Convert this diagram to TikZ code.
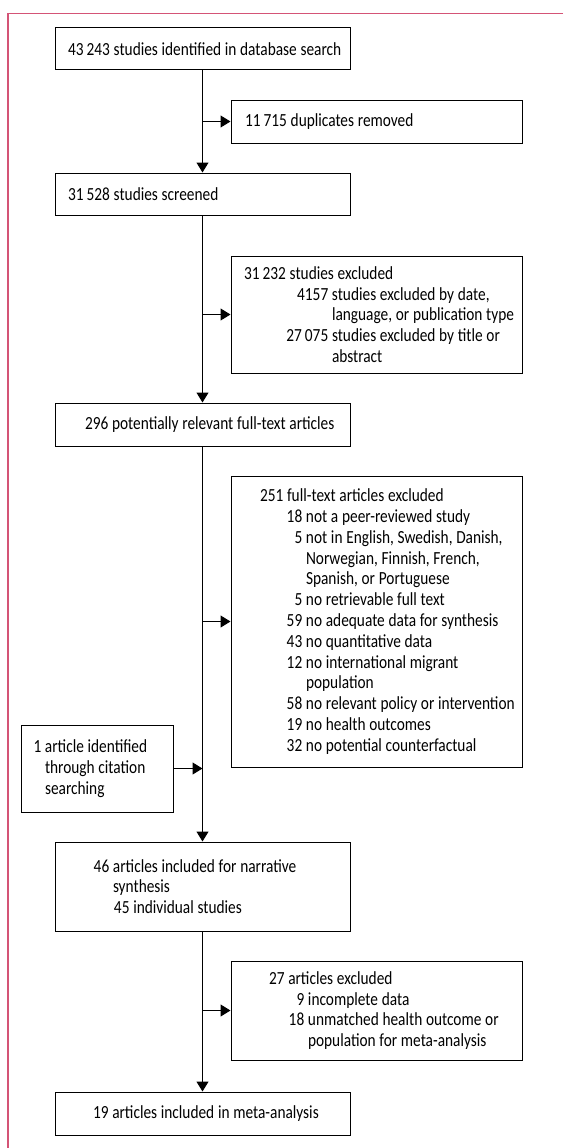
\documentclass[tikz,border=0pt]{standalone}
\usepackage{fontspec}
\setmainfont{Carlito}[FakeStretch=0.83]
\usetikzlibrary{arrows.meta}

\definecolor{framered}{RGB}{212,84,118}

% tight word spaces (align=left widens them)
\newcommand{\tightsp}{\spaceskip=0.2em plus 0.1em\relax}
% line with indent, and line with a hanging number
\newcommand{\tx}[2]{\hspace*{#1}\mbox{\tightsp#2}}
\newcommand{\itm}[3]{\hspace*{#1}\llap{\tightsp#2\ }\mbox{\tightsp#3}}

\begin{document}
\begin{tikzpicture}[x=1pt, y=-1pt, >={Triangle[length=10pt,width=12pt]}, line width=1pt,
    box/.style={draw, inner sep=0pt, align=left, font=\fontsize{18.5}{20.8}\selectfont},
    mainbox/.style={box, text width=295pt},
    sidebox/.style={box, text width=291pt}]
    \useasboundingbox (0,0) rectangle (563,1148);

    % Frame
    \draw [framered, line width=1.3pt] (563,13.3) -- (8,13.3) -- (8,1148);

    % Nodes {main column}
    \node [mainbox, minimum height=42pt]   (found)     at (202.5,49)    {\tx{13pt}{43\,243 studies identified in database search}};
    \node [mainbox, minimum height=42pt]   (screened)  at (202.5,194)   {\tx{13pt}{31\,528 studies screened}};
    \node [mainbox, minimum height=43pt]   (fulltext)  at (202.5,424.5) {\tx{30pt}{296 potentially relevant full-text articles}};
    \node [mainbox, minimum height=89pt]   (narrative) at (202.5,886.5) {\itm{58pt}{46}{articles included for narrative}\\
                                                                         \tx{58pt}{synthesis}\\
                                                                         \tx{59pt}{45 individual studies}};
    \node [mainbox, minimum height=43pt]   (meta)      at (202.5,1113.5){\tx{38pt}{19 articles included in meta-analysis}};

    % Nodes {side boxes}
    \node [sidebox, minimum height=43pt]   (dupl)      at (376.5,121.5) {\tx{14pt}{11\,715 duplicates removed}};
    \node [sidebox, minimum height=117pt]  (exclA)     at (376.5,314.5) {\tx{13pt}{31\,232 studies excluded}\\
                                                                         \itm{101pt}{4157}{studies excluded by date,}\\
                                                                         \tx{101pt}{language, or publication type}\\
                                                                         \itm{101pt}{27\,075}{studies excluded by title or}\\
                                                                         \tx{101pt}{abstract}};
    \node [sidebox, minimum height=291pt]  (exclB)     at (376.5,621.5) {\tx{29pt}{251 full-text articles excluded}\\
                                                                         \itm{75pt}{18}{not a peer-reviewed study}\\
                                                                         \itm{75pt}{5}{not in English, Swedish, Danish,}\\
                                                                         \tx{75pt}{Norwegian, Finnish, French,}\\
                                                                         \tx{75pt}{Spanish, or Portuguese}\\
                                                                         \itm{75pt}{5}{no retrievable full text}\\
                                                                         \itm{75pt}{59}{no adequate data for synthesis}\\
                                                                         \itm{75pt}{43}{no quantitative data}\\
                                                                         \itm{75pt}{12}{no international migrant}\\
                                                                         \tx{75pt}{population}\\
                                                                         \itm{75pt}{58}{no relevant policy or intervention}\\
                                                                         \itm{75pt}{19}{no health outcomes}\\
                                                                         \itm{75pt}{32}{no potential counterfactual}};
    \node [sidebox, minimum height=99pt]   (exclC)     at (376.5,1010.5){\tx{38pt}{27 articles excluded}\\
                                                                         \itm{77pt}{9}{incomplete data}\\
                                                                         \itm{77pt}{18}{unmatched health outcome or}\\
                                                                         \tx{77pt}{population for meta-analysis}};
    \node [box, text width=152pt, minimum height=87pt] (citation) at (97,768.5) {\itm{24pt}{1}{article identified}\\
                                                                         \tx{24pt}{through citation}\\
                                                                         \tx{24pt}{searching}};

    % Junctions on the main line
    \coordinate (j1) at (found.south |- dupl.west);
    \coordinate (j2) at (screened.south |- exclA.west);
    \coordinate (j3) at (fulltext.south |- exclB.west);
    \coordinate (j4) at (fulltext.south |- citation.east);
    \coordinate (j5) at (narrative.south |- exclC.west);

    % Paths
    \path [draw, ->]  (found)     -- (screened);
    \path [draw, ->]  (screened)  -- (fulltext);
    \path [draw, ->]  (fulltext)  -- (narrative);
    \path [draw, ->]  (narrative) -- (meta);
    \path [draw, ->]  (j1)        -- (dupl);
    \path [draw, ->]  (j2)        -- (exclA);
    \path [draw, ->]  (j3)        -- (exclB);
    \path [draw, ->]  (citation)  -- (j4);
    \path [draw, ->]  (j5)        -- (exclC);

\end{tikzpicture}
\end{document}
